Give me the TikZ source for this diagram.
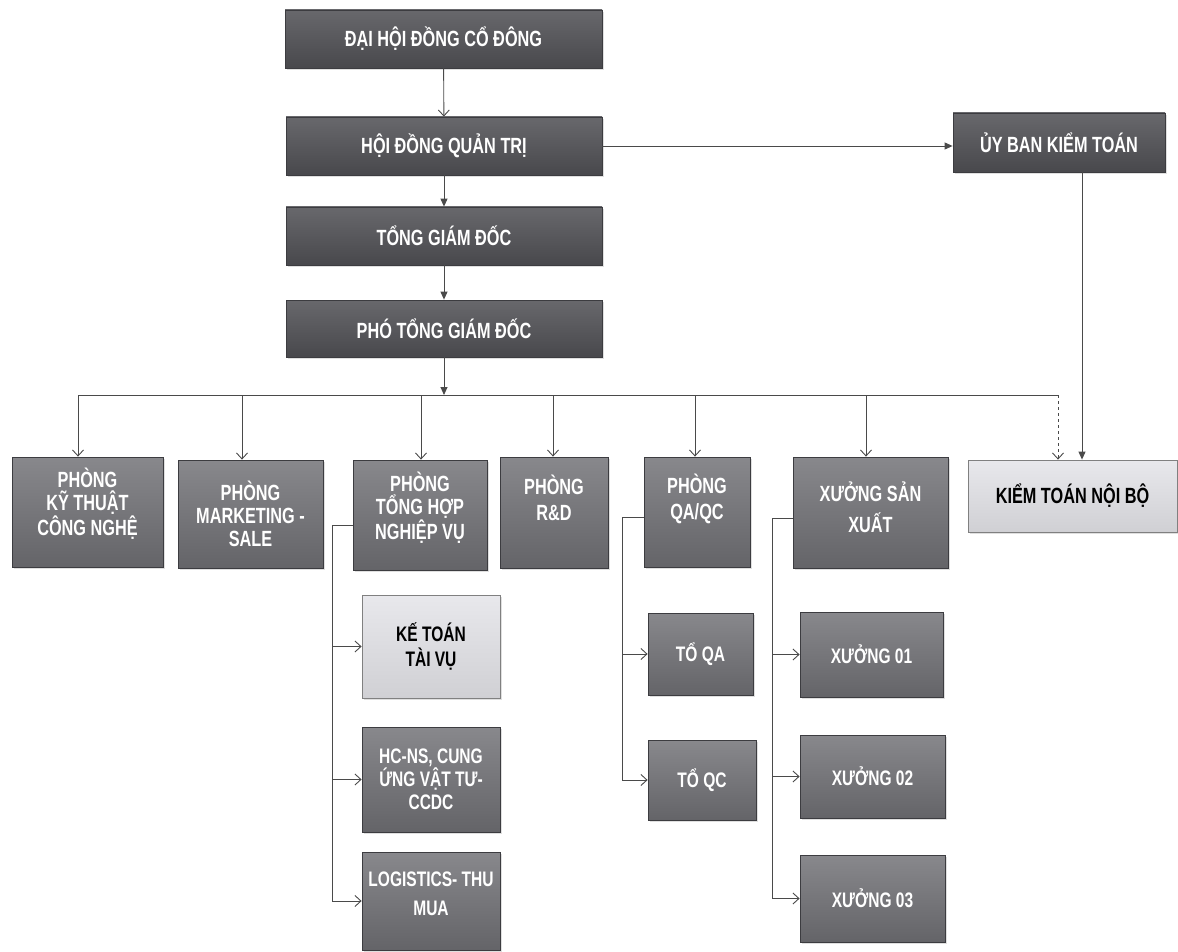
\documentclass[tikz,border=0pt]{standalone}
\usepackage{fontspec}
\newfontfamily\bx{Liberation Sans}[FakeStretch=0.74]
\usetikzlibrary{arrows.meta,shadows}
\definecolor{topA}{HTML}{68686C}
\definecolor{botA}{HTML}{48484C}
\definecolor{topB}{HTML}{88888C}
\definecolor{botB}{HTML}{646468}
\definecolor{topL}{HTML}{E8E8EC}
\definecolor{botL}{HTML}{D0D0D4}
\definecolor{edge}{HTML}{3C3C40}
\definecolor{ln}{HTML}{4A4A4A}
\tikzset{
  boxbase/.style={rectangle, draw=edge, line width=0.8pt, align=center, inner sep=2pt,
    drop shadow={opacity=0.25, shadow xshift=2pt, shadow yshift=-2pt}},
  topbox/.style={boxbase, top color=topA, bottom color=botA, text=white,
    font=\bx\bfseries\fontsize{22}{22}\selectfont},
  deptbox/.style={boxbase, top color=topB, bottom color=botB, text=white,
    font=\bx\bfseries\fontsize{22}{23}\selectfont},
  subbox/.style={boxbase, top color=topB, bottom color=botB, text=white,
    font=\bx\bfseries\fontsize{21}{23}\selectfont},
  litebox/.style={boxbase, top color=topL, bottom color=botL, text=black, draw=gray,
    font=\bx\bfseries\fontsize{22}{24}\selectfont},
  conn/.style={draw=ln, line width=0.9pt},
  openarr/.style={conn, -{Straight Barb[length=6pt,width=11pt]}},
  fillarr/.style={conn, -{Triangle[length=8pt,width=7pt]}},
}
\begin{document}
\begin{tikzpicture}[x=1pt,y=-1pt]
\useasboundingbox (0,0) rectangle (1178,952);
% top chain
\node[topbox, minimum width=317pt, minimum height=58pt] (dh) at (443.5,39) {ĐẠI HỘI ĐỒNG CỔ ĐÔNG};
\node[topbox, minimum width=316pt, minimum height=58pt] (hd) at (444,146) {HỘI ĐỒNG QUẢN TRỊ};
\node[topbox, minimum width=316pt, minimum height=58pt] (tgd) at (444,236) {TỔNG GIÁM ĐỐC};
\node[topbox, minimum width=316pt, minimum height=57pt] (ptgd) at (444,328.5) {PHÓ TỔNG GIÁM ĐỐC};
\node[topbox, minimum width=212pt, minimum height=59pt] (ub) at (1059,142.5) {ỦY BAN KIỂM TOÁN};
% departments
\node[deptbox, minimum width=151pt, minimum height=110pt, text depth=20pt] (kt) at (87.5,512) {PHÒNG\\KỸ THUẬT\\CÔNG NGHỆ};
\node[deptbox, minimum width=145pt, minimum height=108pt] (mk) at (250.5,514) {PHÒNG\\MARKETING -\\SALE};
\node[deptbox, minimum width=134pt, minimum height=110pt, text depth=18pt] (th) at (420,515) {PHÒNG\\TỔNG HỢP\\NGHIỆP VỤ};
\node[deptbox, minimum width=108pt, minimum height=111pt, text depth=30pt] (rd) at (554,512.5) {PHÒNG\\[3pt]R\&D};
\node[deptbox, minimum width=106pt, minimum height=110pt, text depth=30pt] (qa) at (697,512) {PHÒNG\\[3pt]QA/QC};
\node[deptbox, minimum width=155pt, minimum height=111pt, text depth=10pt] (xsx) at (870.5,512.5) {XƯỞNG SẢN\\[8pt]XUẤT};
\node[litebox, minimum width=209pt, minimum height=72pt] (ktnb) at (1072.5,496) {KIỂM TOÁN NỘI BỘ};
% sub units
\node[litebox, minimum width=138pt, minimum height=103pt, font=\bx\bfseries\fontsize{21}{25}\selectfont] (ktv) at (431,646.5) {KẾ TOÁN\\TÀI VỤ};
\node[subbox, minimum width=138pt, minimum height=105pt] (hcns) at (431,779.5) {HC-NS, CUNG\\ỨNG VẬT TƯ-\\CCDC};
\node[subbox, minimum width=138pt, minimum height=98pt, text depth=14pt] (lg) at (431,901) {LOGISTICS- THU\\[6pt]MUA};
\node[subbox, minimum width=105pt, minimum height=82pt] (toqa) at (700.5,654) {TỔ QA};
\node[subbox, minimum width=108pt, minimum height=80pt] (toqc) at (702,780) {TỔ QC};
\node[subbox, minimum width=143pt, minimum height=85pt] (x01) at (871.5,654.5) {XƯỞNG 01};
\node[subbox, minimum width=145pt, minimum height=83pt] (x02) at (872.5,776.5) {XƯỞNG 02};
\node[subbox, minimum width=145pt, minimum height=87pt] (x03) at (872.5,898.5) {XƯỞNG 03};
% top connectors
\draw[openarr] (dh) -- (hd);
\draw[fillarr] (hd) -- (tgd);
\draw[fillarr] (tgd) -- (ptgd);
\draw[fillarr] (hd.east) -- (hd.east -| ub.west);
% bus
\coordinate (bl) at (78,395);
\coordinate (br) at (1058,395);
\draw[fillarr] (ptgd.south) -- (ptgd.south |- bl);
\draw[conn, rounded corners=3pt] (bl) -- (br);
\coordinate (d1) at (78,395);
\coordinate (d2) at (242,395);
\coordinate (d3) at (421,395);
\coordinate (d4) at (553,395);
\coordinate (d5) at (695,395);
\coordinate (d6) at (866,395);
\draw[openarr] (d1) -- (d1 |- kt.north);
\draw[openarr] (d2) -- (d2 |- mk.north);
\draw[openarr] (d3) -- (d3 |- th.north);
\draw[openarr] (d4) -- (d4 |- rd.north);
\draw[openarr] (d5) -- (d5 |- qa.north);
\draw[openarr] (d6) -- (d6 |- xsx.north);
\draw[openarr, dashed] (br) -- (br |- ktnb.north);
\coordinate (ux) at (1082,0);
\draw[fillarr] (ub.south -| ux) -- (ktnb.north -| ux);
% tong hop branch
\coordinate (tv) at (332,525);
\draw[conn] (th.west |- tv) -- (tv);
\draw[openarr] (tv) |- (lg.west);
\draw[openarr] (ktv.west -| tv) -- (ktv.west);
\draw[openarr] (hcns.west -| tv) -- (hcns.west);
% QA/QC branch
\coordinate (qv) at (622,517);
\draw[conn] (qa.west |- qv) -- (qv);
\draw[openarr] (qv) |- (toqc.west);
\draw[openarr] (toqa.west -| qv) -- (toqa.west);
% xuong san xuat branch
\coordinate (xv) at (772,518);
\draw[conn] (xsx.west |- xv) -- (xv);
\draw[openarr] (xv) |- (x03.west);
\draw[openarr] (x01.west -| xv) -- (x01.west);
\draw[openarr] (x02.west -| xv) -- (x02.west);
\end{tikzpicture}
\end{document}
